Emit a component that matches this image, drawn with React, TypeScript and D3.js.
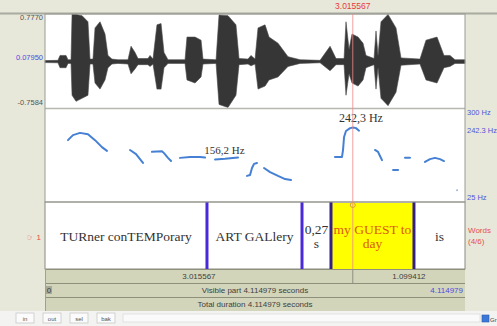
import { useEffect, useRef } from "react";
import * as d3 from "d3";

// --- data (times in seconds) ---
const totalDuration = 4.114979;
const cursorTime = 3.015567;

// waveform envelope: [time, upper amplitude, lower amplitude]
const waveEnvelope: [number, number, number][] = [
  [0.0, 0.01, -0.01], [0.127, 0.02, -0.02], [0.147, 0.1, -0.1], [0.206, 0.1, -0.1],
  [0.225, 0.03, -0.03], [0.255, 0.03, -0.03], [0.265, 0.77, -0.55], [0.304, 0.77, -0.65],
  [0.363, 0.75, -0.6], [0.421, 0.65, -0.55], [0.441, 0.04, -0.04], [0.47, 0.04, -0.04],
  [0.49, 0.55, -0.35], [0.539, 0.65, -0.45], [0.588, 0.45, -0.3], [0.617, 0.1, -0.1],
  [0.656, 0.04, -0.04], [0.715, 0.03, -0.03], [0.813, 0.03, -0.04], [0.843, 0.25, -0.2],
  [0.882, 0.15, -0.12], [0.911, 0.05, -0.05], [1.009, 0.05, -0.05], [1.029, 0.1, -0.08],
  [1.058, 0.04, -0.04], [1.097, 0.6, -0.45], [1.137, 0.62, -0.45], [1.166, 0.15, -0.1],
  [1.205, 0.03, -0.03], [1.372, 0.03, -0.03], [1.391, 0.4, -0.3], [1.47, 0.4, -0.35],
  [1.529, 0.35, -0.25], [1.548, 0.04, -0.04], [1.676, 0.03, -0.03], [1.705, 0.76, -0.7],
  [1.793, 0.75, -0.75], [1.871, 0.6, -0.55], [1.901, 0.05, -0.05], [1.989, 0.04, -0.04],
  [2.018, 0.1, -0.07], [2.058, 0.04, -0.04], [2.087, 0.55, -0.45], [2.156, 0.6, -0.4],
  [2.195, 0.4, -0.3], [2.283, 0.3, -0.25], [2.381, 0.08, -0.08], [2.499, 0.03, -0.03],
  [2.695, 0.02, -0.02], [2.793, 0.25, -0.15], [2.851, 0.05, -0.05], [2.93, 0.05, -0.05],
  [2.949, 0.65, -0.55], [2.979, 0.2, -0.2], [3.008, 0.45, -0.35], [3.067, 0.4, -0.4],
  [3.116, 0.3, -0.3], [3.145, 0.1, -0.1], [3.224, 0.05, -0.05], [3.243, 0.5, -0.45],
  [3.263, 0.1, -0.1], [3.292, 0.65, -0.6], [3.361, 0.77, -0.72], [3.439, 0.55, -0.5],
  [3.488, 0.06, -0.06], [3.674, 0.04, -0.04], [3.733, 0.35, -0.3], [3.841, 0.4, -0.35],
  [3.909, 0.1, -0.1], [3.968, 0.1, -0.08], [4.017, 0.03, -0.03], [4.115, 0.03, -0.03],
];

// pitch contour pieces: [time, Hz]
const pitchSegments: [number, number][][] = [
  [[0.225, 211], [0.274, 227], [0.343, 234], [0.421, 230], [0.49, 211], [0.558, 189], [0.607, 177]],
  [[0.833, 180], [0.892, 167], [0.96, 139]],
  [[1.048, 174], [1.146, 176], [1.166, 170], [1.205, 155], [1.235, 145]],
  [[1.323, 155], [1.421, 158], [1.519, 158], [1.568, 156]],
  [[1.666, 150], [1.764, 152], [1.891, 156]],
  [[1.979, 98], [2.009, 101], [2.028, 123], [2.048, 136], [2.077, 139]],
  [[2.146, 123], [2.205, 110], [2.283, 98], [2.352, 88], [2.41, 85]],
  [[2.841, 158], [2.91, 158], [2.92, 180], [2.93, 221], [2.949, 240], [2.989, 249], [3.018, 251], [3.047, 249], [3.077, 241]],
  [[3.233, 180], [3.263, 174], [3.282, 161], [3.302, 148]],
  [[3.41, 117], [3.459, 117]],
  [[3.527, 155], [3.576, 155]],
  [[3.723, 142], [3.772, 151], [3.821, 155], [3.87, 151], [3.909, 145]],
];
const pitchDots: [number, number][] = [[4.037, 53]];

// text grid tier
const boundaries = [1.587, 2.518, 2.802, 3.615];
const intervalLabels: string[][] = [
  ["TURner conTEMPorary"],
  ["ART GALlery"],
  ["0,27", "s"],
  ["my GUEST to", "day"],
  ["is"],
];
const selectedInterval = 3;

const waveTicks = ["0.7770", "0.07950", "-0.7584"];
const pitchTicks = ["300 Hz", "242.3 Hz", "25 Hz"];
const annotations: [number, number, string][] = [[1.56, 168, "156,2 Hz"], [2.88, 268, "242,3 Hz"]];
const buttons = ["in", "out", "sel", "bak"];

export default function App() {
  const svgRef = useRef<SVGSVGElement>(null);

  useEffect(() => {
    if (!svgRef.current) return;
    const W = 497, H = 326;
    const L = 45, R = 465;
    const svg = d3.select(svgRef.current);
    svg.selectAll("*").remove();

    const sans = "'Liberation Sans', Arial, sans-serif";
    const serif = "'Liberation Serif', 'Times New Roman', serif";

    const x = d3.scaleLinear().domain([0, totalDuration]).range([L, R]);
    const yWave = d3.scaleLinear().domain([-0.7584, 0.777]).range([108, 14]);
    const yPitch = d3.scaleLinear().domain([25, 300]).range([199, 112]);

    // background
    svg.append("rect").attr("width", W).attr("height", H).attr("fill", "#e7e7da");

    // waveform panel
    svg.append("rect").attr("x", L).attr("y", 14).attr("width", R - L).attr("height", 94)
      .attr("fill", "#fff");
    svg.append("line").attr("x1", 0).attr("x2", W).attr("y1", 13.5).attr("y2", 13.5)
      .attr("stroke", "#a9aba0").attr("stroke-width", 2);

    const area = d3.area<[number, number, number]>()
      .x(d => x(d[0]))
      .y0(d => Math.max(yWave(d[2]), yWave(0) + 1))
      .y1(d => Math.min(yWave(d[1]), yWave(0) - 1));
    svg.append("path").datum(waveEnvelope).attr("d", area)
      .attr("fill", "#363636").attr("stroke", "#4a4a4a").attr("stroke-width", 0.6);

    // pitch panel
    svg.append("rect").attr("x", L).attr("y", 109).attr("width", R - L).attr("height", 93)
      .attr("fill", "#fff");
    svg.append("line").attr("x1", L).attr("x2", R).attr("y1", 108.5).attr("y2", 108.5)
      .attr("stroke", "#b8b8b0").attr("stroke-width", 1.5);

    const line = d3.line<[number, number]>().x(d => x(d[0])).y(d => yPitch(d[1]));
    pitchSegments.forEach(seg => {
      svg.append("path").datum(seg).attr("d", line).attr("fill", "none")
        .attr("stroke", "#4580d4").attr("stroke-width", 2)
        .attr("stroke-linejoin", "round").attr("stroke-linecap", "round");
    });
    pitchDots.forEach(d => {
      svg.append("circle").attr("cx", x(d[0])).attr("cy", yPitch(d[1])).attr("r", 1)
        .attr("fill", "#9ab4e0");
    });

    annotations.forEach(([t, hz, s]) => {
      svg.append("text").attr("x", x(t)).attr("y", yPitch(hz)).text(s)
        .attr("font-family", serif).attr("font-size", t > 2.5 ? 12 : 11).attr("fill", "#333");
    });

    // tier
    const tierTop = 202, tierBottom = 269;
    svg.append("rect").attr("x", L).attr("y", tierTop).attr("width", R - L).attr("height", tierBottom - tierTop)
      .attr("fill", "#fff").attr("stroke", "#8a8a80").attr("stroke-width", 1);
    const edges = [0, ...boundaries, totalDuration];
    svg.append("rect")
      .attr("x", x(edges[selectedInterval])).attr("y", tierTop + 1)
      .attr("width", x(edges[selectedInterval + 1]) - x(edges[selectedInterval]))
      .attr("height", tierBottom - tierTop - 1).attr("fill", "#ffff00");

    intervalLabels.forEach((lines, i) => {
      const cx = (x(edges[i]) + x(edges[i + 1])) / 2;
      const cy = 241 - (lines.length - 1) * 7;
      lines.forEach((s, j) => {
        svg.append("text").attr("x", cx).attr("y", cy + j * 14).text(s)
          .attr("text-anchor", "middle").attr("font-family", serif).attr("font-size", 13.5)
          .attr("fill", i === selectedInterval ? "#dc5a12" : "#333");
      });
    });

    boundaries.forEach((b, i) => {
      const sel = i === selectedInterval - 1 || i === selectedInterval;
      svg.append("line").attr("x1", x(b)).attr("x2", x(b)).attr("y1", tierTop).attr("y2", tierBottom)
        .attr("stroke", sel ? "#35208a" : "#4a2ad8").attr("stroke-width", 3);
    });

    // panel borders
    svg.append("rect").attr("x", L).attr("y", 14).attr("width", R - L).attr("height", 188)
      .attr("fill", "none").attr("stroke", "#9a9c94").attr("stroke-width", 1);

    // cursor
    const cx = x(cursorTime);
    svg.append("line").attr("x1", cx).attr("x2", cx).attr("y1", 14).attr("y2", tierBottom)
      .attr("stroke", "#f08a8a").attr("stroke-width", 1).attr("opacity", 0.8);
    svg.append("circle").attr("cx", cx).attr("cy", tierTop + 3).attr("r", 2.5)
      .attr("fill", "none").attr("stroke", "#d8a040").attr("stroke-width", 1);
    svg.append("text").attr("x", cx).attr("y", 9).text(cursorTime.toFixed(6))
      .attr("text-anchor", "middle").attr("font-family", sans).attr("font-size", 8.5).attr("fill", "#e83a3a");

    // left wave labels
    waveTicks.forEach((s, i) => {
      const yy = [yWave(0.777) + 6, yWave(0.0795) + 3, yWave(-0.7584) - 3][i];
      svg.append("text").attr("x", L - 2).attr("y", yy).text(s)
        .attr("text-anchor", "end").attr("font-family", sans).attr("font-size", 7.5)
        .attr("fill", i === 1 ? "#4d4de0" : "#555");
    });

    // right pitch labels
    pitchTicks.forEach((s, i) => {
      const yy = [yPitch(300) + 3, yPitch(242.3) + 3, yPitch(25) + 1][i];
      svg.append("text").attr("x", R + 2).attr("y", yy).text(s)
        .attr("font-family", sans).attr("font-size", 7.5).attr("fill", "#5555d8");
    });

    // tier labels
    svg.append("text").attr("x", L - 4).attr("y", 240).text("☞ 1")
      .attr("text-anchor", "end").attr("font-family", sans).attr("font-size", 8).attr("fill", "#e84848");
    svg.append("text").attr("x", R + 3).attr("y", 233).text("Words")
      .attr("font-family", sans).attr("font-size", 8).attr("fill", "#e85050");
    svg.append("text").attr("x", R + 3).attr("y", 244).text("(4/6)")
      .attr("font-family", sans).attr("font-size", 8).attr("fill", "#e85050");

    // duration rows
    const rows = [269, 283, 297, 311];
    svg.append("rect").attr("x", L).attr("y", rows[0]).attr("width", R - L).attr("height", rows[3] - rows[0])
      .attr("fill", "#d3d5ba");
    rows.forEach(r => {
      svg.append("line").attr("x1", L).attr("x2", R).attr("y1", r + 0.5).attr("y2", r + 0.5)
        .attr("stroke", "#8e907c").attr("stroke-width", 1);
    });
    svg.append("line").attr("x1", L + 0.5).attr("x2", L + 0.5).attr("y1", rows[0]).attr("y2", rows[3])
      .attr("stroke", "#a0a290");
    svg.append("line").attr("x1", cx).attr("x2", cx).attr("y1", rows[0]).attr("y2", rows[1])
      .attr("stroke", "#8e907c");
    const rowText = (tx: number, ty: number, s: string, anchor: string, fill = "#404040") =>
      svg.append("text").attr("x", tx).attr("y", ty).text(s).attr("text-anchor", anchor)
        .attr("font-family", sans).attr("font-size", 8).attr("fill", fill);
    rowText((L + cx) / 2, 279, cursorTime.toFixed(6), "middle");
    rowText((cx + R) / 2, 279, (totalDuration - cursorTime).toFixed(6), "middle");
    svg.append("rect").attr("x", L + 1).attr("y", 286).attr("width", 6).attr("height", 8).attr("fill", "#a8aa98");
    rowText(L + 4, 293, "0", "middle");
    rowText((L + R) / 2, 293, `Visible part ${totalDuration.toFixed(6)} seconds`, "middle");
    rowText(R - 2, 293, totalDuration.toFixed(6), "end", "#4d4de0");
    rowText((L + R) / 2, 307, `Total duration ${totalDuration.toFixed(6)} seconds`, "middle");

    // bottom button bar
    svg.append("rect").attr("x", 0).attr("y", 311).attr("width", W).attr("height", 15).attr("fill", "#f3f3f1");
    buttons.forEach((b, i) => {
      const bx = 16 + i * 27;
      svg.append("rect").attr("x", bx).attr("y", 313).attr("width", 18).attr("height", 10)
        .attr("fill", "#fbfbfb").attr("stroke", "#c8c8c8").attr("stroke-width", 0.8);
      svg.append("text").attr("x", bx + 9).attr("y", 320.5).text(b).attr("text-anchor", "middle")
        .attr("font-family", sans).attr("font-size", 6).attr("fill", "#555");
    });
    svg.append("rect").attr("x", 123).attr("y", 314).attr("width", 357).attr("height", 8)
      .attr("fill", "#fafafa").attr("stroke", "#dcdcdc").attr("stroke-width", 0.8);
    svg.append("rect").attr("x", 482).attr("y", 315).attr("width", 7).attr("height", 7)
      .attr("fill", "#3c78d8").attr("stroke", "#2a5ab0").attr("stroke-width", 0.6);
    svg.append("text").attr("x", 490).attr("y", 321.5).text("Gr")
      .attr("font-family", sans).attr("font-size", 6).attr("fill", "#444");
  }, []);

  return (
    <svg ref={svgRef} width={497} height={326}
      style={{ position: "absolute", left: 0, top: 0, display: "block" }} />
  );
}
